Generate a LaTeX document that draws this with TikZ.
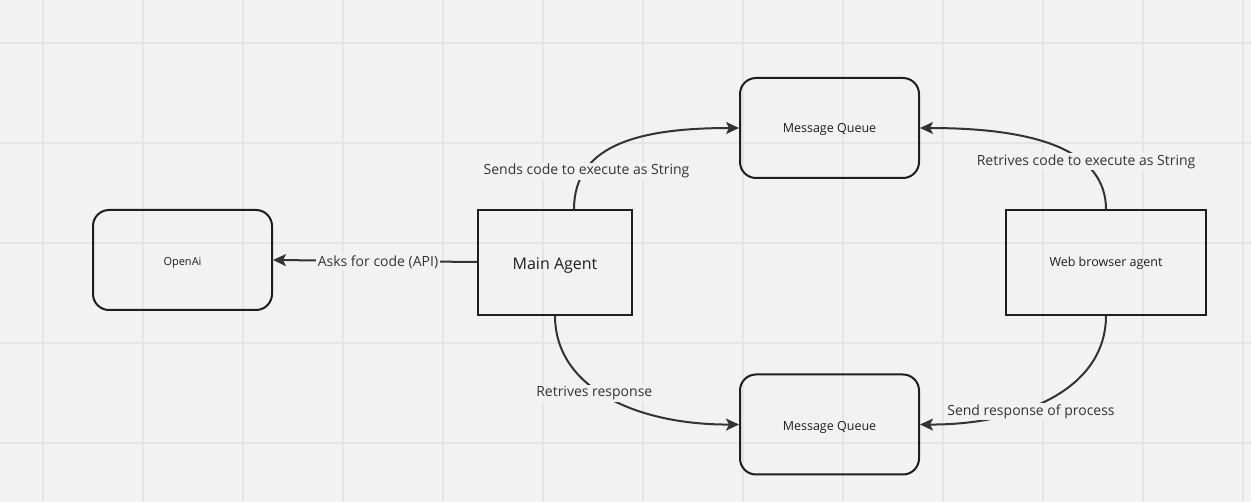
\documentclass[tikz,border=0pt]{standalone}
\usepackage{fontspec}
\setmainfont{Open Sans}
\usetikzlibrary{arrows.meta}
\definecolor{bgc}{HTML}{F2F2F2}
\definecolor{gridc}{HTML}{E5E5E5}
\definecolor{ink}{HTML}{333333}
\definecolor{boxc}{HTML}{1E1E1E}
\newcommand{\lowr}[2]{\raisebox{-#1}[\height][\depth]{#2}}
\tikzset{
  rbox/.style={draw=boxc, line width=2pt, rounded corners=16pt, minimum width=179pt, minimum height=100pt, inner sep=0pt, text=boxc},
  sbox/.style={draw=boxc, line width=2pt, minimum height=105pt, inner sep=0pt, text=boxc},
  conn/.style={draw=ink, line width=2pt, -{Stealth[length=13pt,width=12pt,inset=3pt]}},
  lbl/.style={fill=bgc, text=ink, inner sep=1.5pt, font=\fontsize{14}{16}\selectfont}
}
\begin{document}
\begin{tikzpicture}[x=1pt,y=-1pt]
\fill[bgc] (0,0) rectangle (1251,502);
\useasboundingbox (0,0) rectangle (1251,502);
\foreach \x in {43,143,...,1243} \draw[gridc, line width=1.3pt] (\x,0) -- (\x,502);
\foreach \y in {43,143,...,443} \draw[gridc, line width=1.3pt] (0,\y) -- (1251,\y);

\node[rbox, font=\fontsize{11}{13}\selectfont] (openai) at (182.5,260) {\lowr{3pt}{OpenAi}};
\node[sbox, minimum width=154pt, font=\fontsize{16}{19}\selectfont] (main) at (555,262.5) {\lowr{3pt}{Main Agent}};
\node[rbox, font=\fontsize{12.5}{15}\selectfont] (mq1) at (829.5,128) {\lowr{1pt}{Message Queue}};
\node[sbox, minimum width=200pt, font=\fontsize{12.5}{15}\selectfont] (web) at (1106,262.5) {\lowr{1pt}{Web browser agent}};
\node[rbox, font=\fontsize{12.5}{15}\selectfont] (mq2) at (829.5,424.5) {\lowr{3pt}{Message Queue}};

\coordinate (mtop) at (574,209.5);
\coordinate (wtop) at (1106,209.5);
\coordinate (mbot) at (555,315.5);
\coordinate (wbot) at (1106,315.5);

\draw[conn] (mtop) .. controls (574,148) and (632,128) .. (mq1.west)
  node[lbl, pos=0.27, yshift=-3pt] {Sends code to execute as String};
\draw[conn] (main.west |- 0,262) -- (openai.east |- 0,260)
  node[lbl, midway, xshift=3pt, yshift=-1pt] {Asks for code (API)};
\draw[conn] (wtop) .. controls (1106,152) and (1040,128) .. (mq1.east)
  node[lbl, pos=0.4, xshift=11pt, yshift=-6pt] {Retrives code to execute as String};
\draw[conn] (mbot) .. controls (555,390) and (640,425) .. (mq2.west)
  node[lbl, pos=0.44, xshift=-4pt, yshift=-2pt] {Retrives response};
\draw[conn] (wbot) .. controls (1106,390) and (1020,425) .. (mq2.east)
  node[lbl, pos=0.62, xshift=7pt, yshift=-2pt] {Send response of process};
\end{tikzpicture}
\end{document}
